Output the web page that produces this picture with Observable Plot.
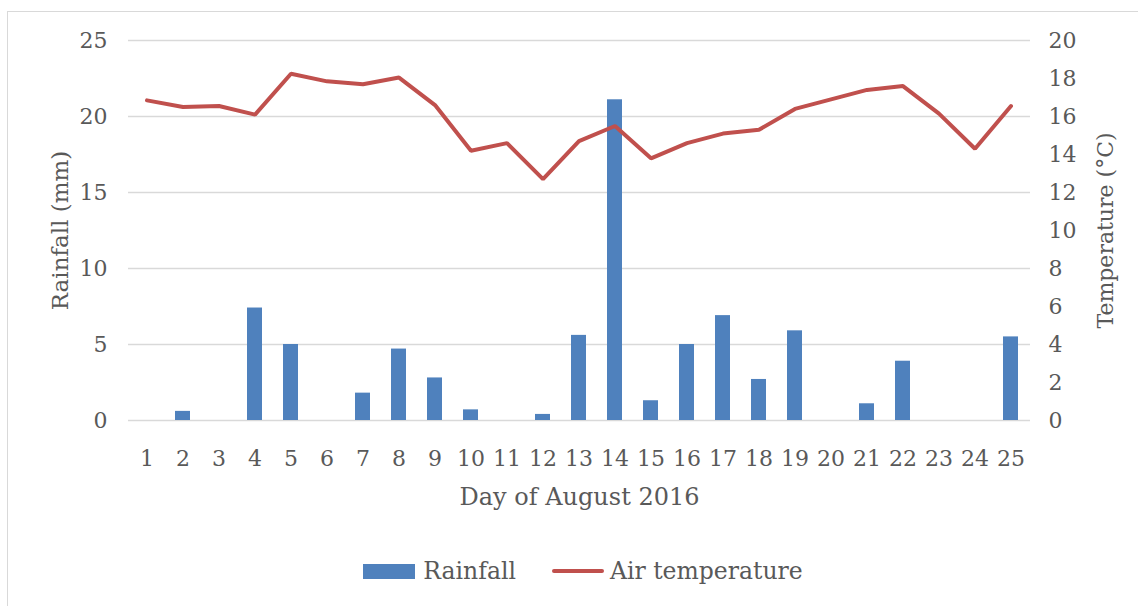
<!DOCTYPE html>
<html>
<head>
<meta charset="utf-8">
<script src="https://cdn.jsdelivr.net/npm/d3@7"></script>
<script src="https://cdn.jsdelivr.net/npm/@observablehq/plot@0.6"></script>
<style>
  html, body { margin: 0; padding: 0; background: #fff; }
  #wrap { position: relative; width: 1138px; height: 606px; overflow: hidden; background: #fff;
          font-family: "DejaVu Serif", serif; color: #595959; }
  #frame { position: absolute; left: 7px; top: 11px; right: -2px; bottom: -2px;
           border-left: 1.5px solid #d9d9d9; border-top: 1.5px solid #d9d9d9; }
  #chart { position: absolute; left: 0; top: 0; }
  #legend { position: absolute; top: 558px; left: 0; width: 1166px; display: flex; justify-content: center;
            align-items: center; font-size: 23.5px; height: 26px; }
  .item { display: flex; align-items: center; margin: 0 18px; }
  .sw-bar { width: 52px; height: 15px; background: #4F81BD; margin-right: 8px; }
  .sw-line { width: 52px; height: 4px; background: #C0504D; border-radius: 2px; margin-right: 6px; }
</style>
</head>
<body>
<div id="wrap">
  <div id="frame"></div>
  <div id="chart"></div>
  <div id="legend">
    <div class="item"><div class="sw-bar"></div><span>Rainfall</span></div>
    <div class="item"><div class="sw-line"></div><span>Air temperature</span></div>
  </div>
</div>
<script>
const days = [1,2,3,4,5,6,7,8,9,10,11,12,13,14,15,16,17,18,19,20,21,22,23,24,25];
const rainfall = [0,0.6,0,7.4,5.0,0,1.8,4.7,2.8,0.7,0,0.4,5.6,21.1,1.3,5.0,6.9,2.7,5.9,0,1.1,3.9,0,0,5.5];
const airTemperature = [16.85,16.5,16.55,16.1,18.25,17.85,17.7,18.05,16.6,14.2,14.6,12.7,14.7,15.5,13.8,14.6,15.1,15.3,16.4,16.9,17.4,17.6,16.15,14.3,16.55];
const rainTicks = [0,5,10,15,20,25];
const tempTicks = [0,2,4,6,8,10,12,14,16,18,20];
const rainMax = 25, tempMax = 20;
const k = rainMax / tempMax;

const data = days.map((d, i) => ({day: d, rain: rainfall[i], temp: airTemperature[i]}));
const fs = 22;   // tick labels
const ts = 23;   // axis titles
const chart = Plot.plot({
  width: 1138,
  height: 530,
  marginLeft: 128,
  marginRight: 108,
  marginTop: 40,
  marginBottom: 110,
  style: {fontFamily: "'DejaVu Serif', serif", fontSize: fs + "px", color: "#595959", background: "transparent", overflow: "visible"},
  x: {type: "band", domain: days, paddingInner: 0.58, paddingOuter: 0.29},
  y: {domain: [0, rainMax]},
  marks: [
    Plot.gridY(rainTicks, {stroke: "#d9d9d9", strokeOpacity: 1, strokeWidth: 1.3}),
    Plot.barY(data, {x: "day", y: "rain", fill: "#4F81BD"}),
    Plot.line(data, {x: "day", y: d => d.temp * k, stroke: "#C0504D", strokeWidth: 4, strokeLinejoin: "miter", curve: "linear"}),
    Plot.axisY({anchor: "left", ticks: rainTicks, tickSize: 0, tickPadding: 21, label: null, fontSize: fs, fill: "#595959"}),
    Plot.axisY({anchor: "right", ticks: tempTicks.map(t => t * k), tickFormat: d => String(Math.round(d / k)), tickSize: 0, tickPadding: 18, label: null, fontSize: fs, fill: "#595959", textAnchor: "start"}),
    Plot.axisX({tickSize: 0, tickPadding: 30, label: null, fontSize: fs, fill: "#595959"}),
    Plot.text(["Rainfall (mm)"], {frameAnchor: "left", dx: -68, rotate: -90, textAnchor: "middle", lineAnchor: "middle", text: d => d, fontSize: ts, fill: "#595959"}),
    Plot.text(["Temperature (°C)"], {frameAnchor: "right", dx: 75, rotate: -90, textAnchor: "middle", lineAnchor: "middle", text: d => d, fontSize: ts - 1, fill: "#595959"}),
    Plot.text(["Day of August 2016"], {frameAnchor: "bottom", dy: 77, textAnchor: "middle", lineAnchor: "middle", text: d => d, fontSize: ts + 1, fill: "#595959"})
  ]
});
document.getElementById("chart").appendChild(chart);
</script>
</body>
</html>
